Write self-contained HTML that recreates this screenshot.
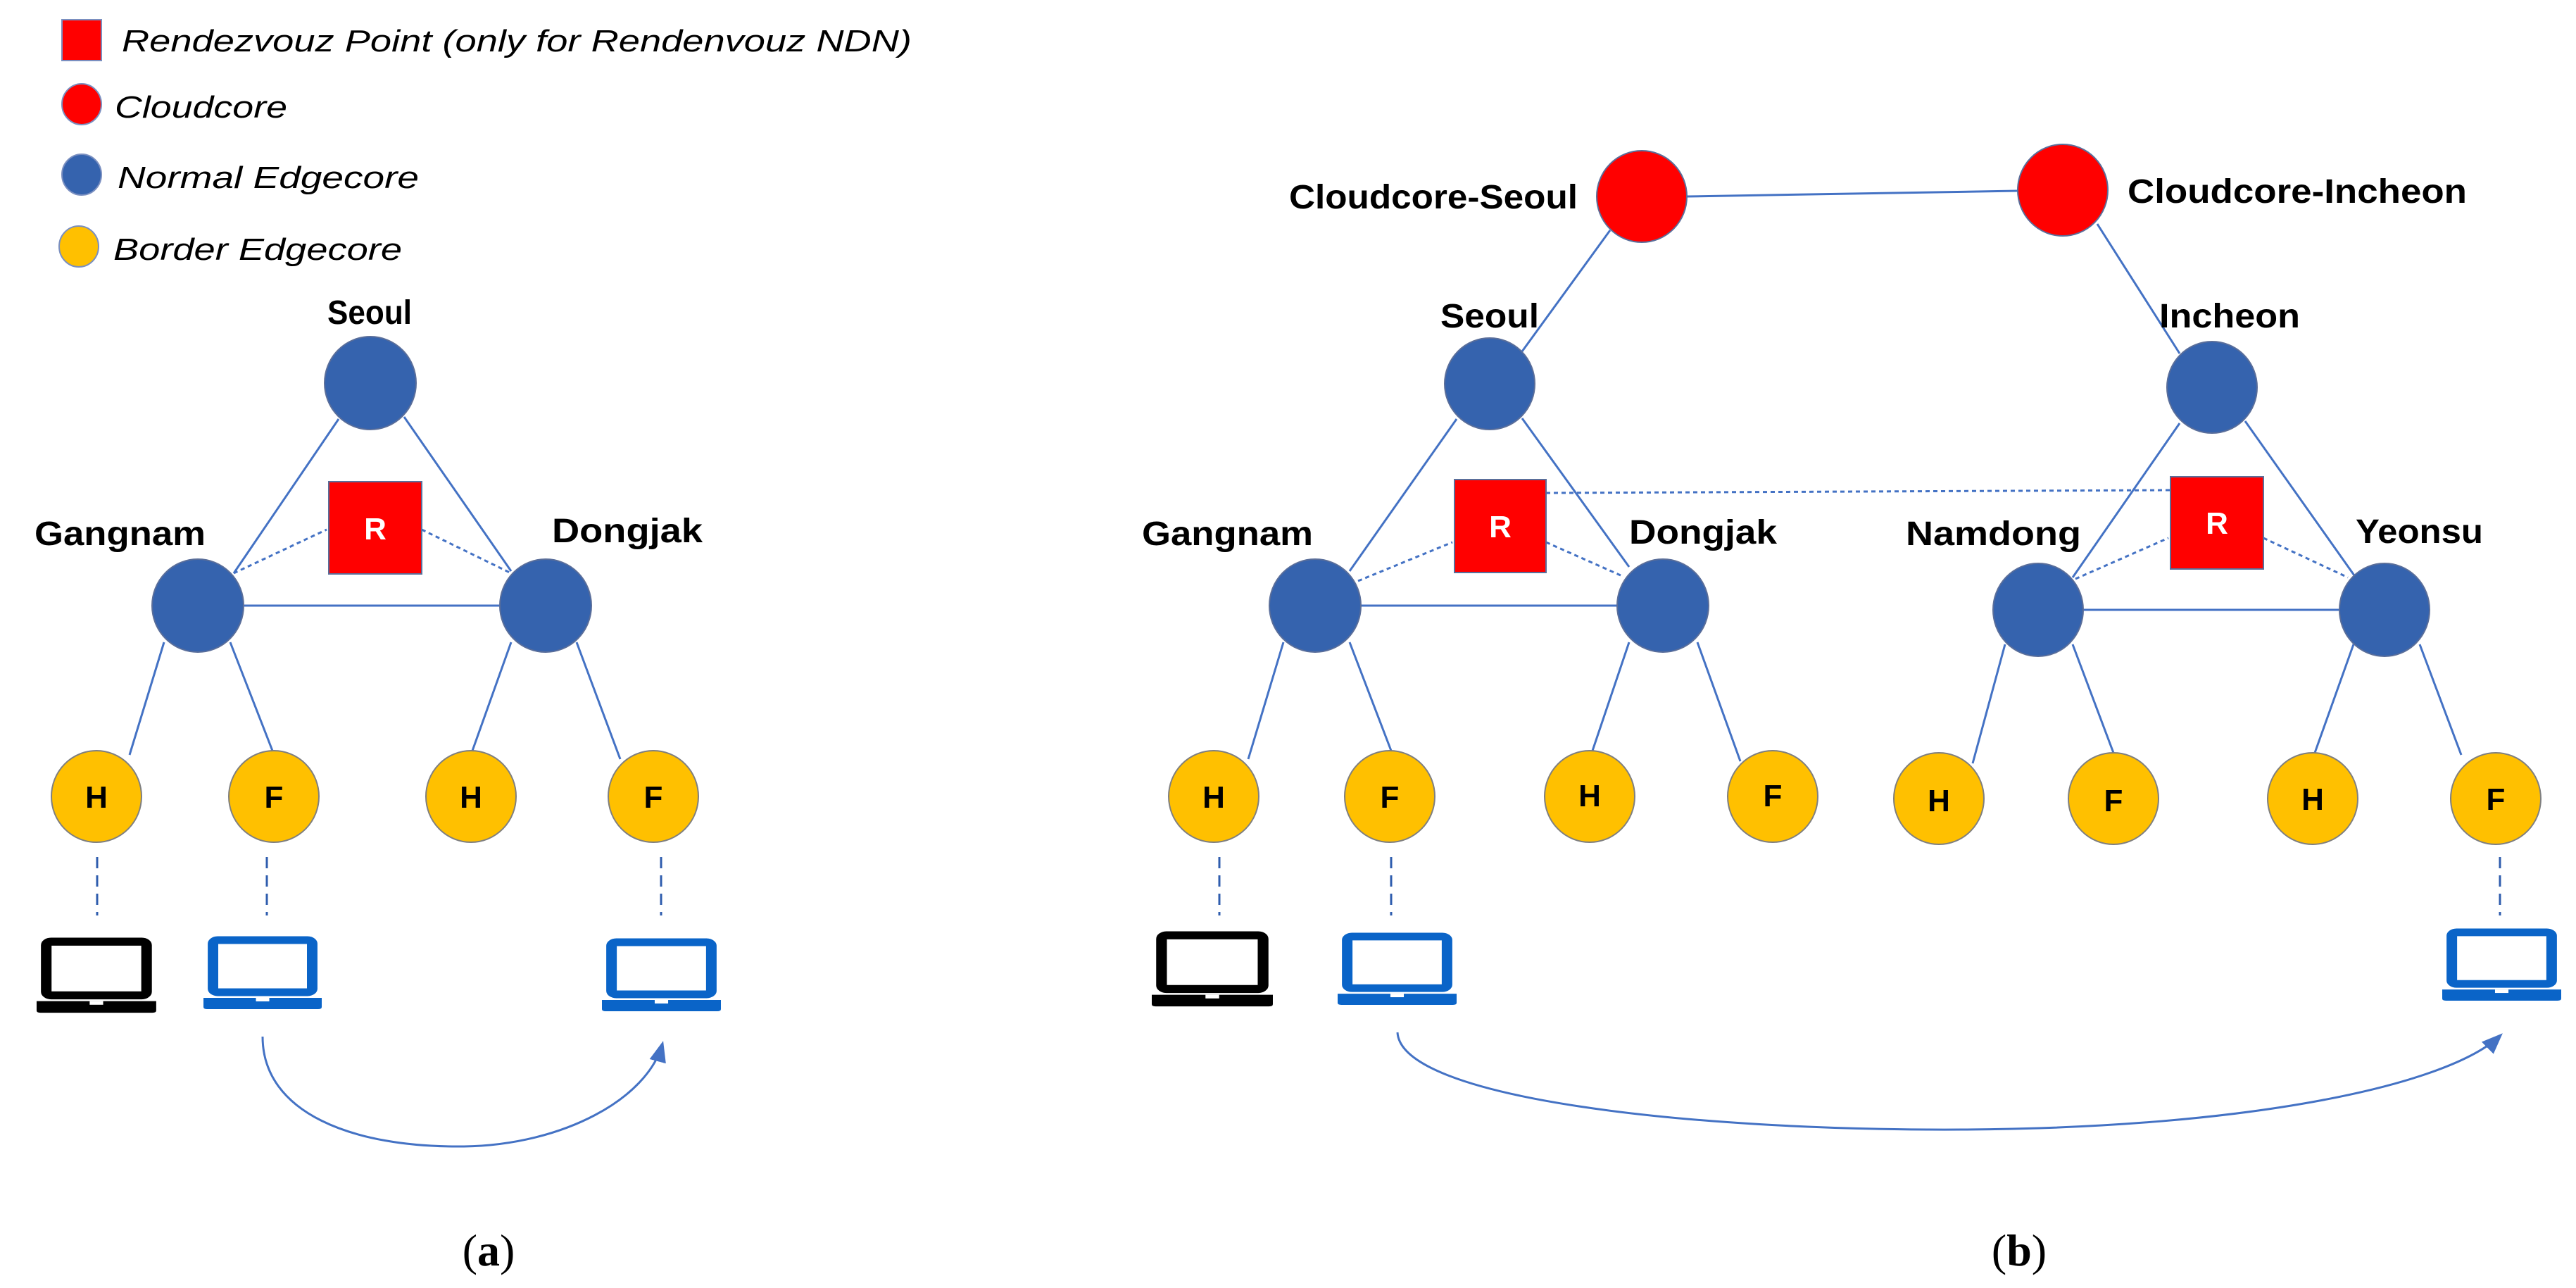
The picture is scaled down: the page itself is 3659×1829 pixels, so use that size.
<!DOCTYPE html>
<html><head><meta charset="utf-8"><style>
html,body{margin:0;padding:0;background:#fff;}
svg{display:block;}
.lbl{font-family:"Liberation Sans",sans-serif;font-weight:bold;font-size:48px;fill:#000;}
.lg{font-family:"Liberation Sans",sans-serif;font-style:italic;font-size:44px;fill:#000;}
.nl{font-family:"Liberation Sans",sans-serif;font-weight:bold;font-size:44px;}
.cap{font-family:"Liberation Serif",serif;font-size:64px;fill:#000;}
</style></head><body>
<svg width="3659" height="1829" viewBox="0 0 3659 1829" xmlns="http://www.w3.org/2000/svg">
<defs>
<marker id="ah" markerWidth="10" markerHeight="10" refX="8" refY="5" orient="auto" markerUnits="userSpaceOnUse" viewBox="0 0 10 10">
<path d="M0,0 L10,5 L0,10 z" fill="#4472C4"/>
</marker>
<marker id="ah2" markerWidth="30" markerHeight="30" refX="26" refY="15" orient="auto" markerUnits="userSpaceOnUse" viewBox="0 0 30 30">
<path d="M0,3 L30,15 L0,27 z" fill="#4472C4"/>
</marker>
<g id="lapB">
<rect x="10" y="6" width="104" height="74" rx="5" fill="none" stroke="#0A64C8" stroke-width="11"/>
<path d="M0,88 H124 V101 Q124,104 120,104 H4 Q0,104 0,101 Z" fill="#0A64C8"/>
<rect x="55" y="88" width="14" height="5" fill="#fff"/>
</g>
<g id="lapK">
<rect x="10" y="6" width="104" height="74" rx="5" fill="none" stroke="#000" stroke-width="11"/>
<path d="M0,88 H124 V101 Q124,104 120,104 H4 Q0,104 0,101 Z" fill="#000"/>
<rect x="55" y="88" width="14" height="5" fill="#fff"/>
</g>
</defs>

<!-- Legend -->
<rect x="88" y="28" width="56" height="58" fill="#FF0000" stroke="#7A8FC0" stroke-width="2"/>
<text class="lg" x="173" y="73" textLength="1122" lengthAdjust="spacingAndGlyphs">Rendezvouz Point (only for Rendenvouz NDN)</text>
<ellipse cx="116" cy="148" rx="28" ry="29" fill="#FF0000" stroke="#7A8FC0" stroke-width="2"/>
<text class="lg" x="163" y="167" textLength="245" lengthAdjust="spacingAndGlyphs">Cloudcore</text>
<ellipse cx="116" cy="248" rx="28" ry="29" fill="#3563AE" stroke="#7A8FC0" stroke-width="2"/>
<text class="lg" x="167" y="267" textLength="428" lengthAdjust="spacingAndGlyphs">Normal Edgecore</text>
<ellipse cx="112" cy="350" rx="28" ry="29" fill="#FFC000" stroke="#7A8FC0" stroke-width="2"/>
<text class="lg" x="161" y="369" textLength="410" lengthAdjust="spacingAndGlyphs">Border Edgecore</text>

<g stroke="#4472C4" stroke-width="3" fill="none">
<!-- (a) solid lines -->
<line x1="481" y1="595" x2="332" y2="814"/>
<line x1="574" y1="592" x2="726" y2="811"/>
<line x1="347" y1="860" x2="709" y2="860"/>
<line x1="233" y1="912" x2="184" y2="1072"/>
<line x1="327" y1="912" x2="387" y2="1066"/>
<line x1="726" y1="912" x2="671" y2="1066"/>
<line x1="819" y1="912" x2="881" y2="1078"/>
<!-- (b) solid -->
<line x1="2396" y1="279" x2="2866" y2="271"/>
<line x1="2287" y1="327" x2="2162" y2="499"/>
<line x1="2979" y1="318" x2="3096" y2="502"/>
<line x1="2069" y1="595" x2="1917" y2="811"/>
<line x1="2162" y1="594" x2="2314" y2="805"/>
<line x1="3096" y1="601" x2="2944" y2="820"/>
<line x1="3189" y1="598" x2="3344" y2="817"/>
<line x1="1933" y1="860" x2="2297" y2="860"/>
<line x1="2959" y1="866" x2="3323" y2="866"/>
<line x1="1823" y1="912" x2="1773" y2="1078"/>
<line x1="1917" y1="912" x2="1976" y2="1066"/>
<line x1="2314" y1="912" x2="2262" y2="1066"/>
<line x1="2411" y1="912" x2="2472" y2="1081"/>
<line x1="2848" y1="915" x2="2802" y2="1084"/>
<line x1="2944" y1="915" x2="3002" y2="1069"/>
<line x1="3343" y1="915" x2="3288" y2="1069"/>
<line x1="3437" y1="915" x2="3496" y2="1072"/>
</g>
<g stroke="#4472C4" stroke-width="3" fill="none" stroke-dasharray="6 5">
<line x1="332" y1="814" x2="464" y2="752"/>
<line x1="599" y1="752" x2="726" y2="814"/>
<line x1="1929" y1="825" x2="2063" y2="770"/>
<line x1="2196" y1="770" x2="2302" y2="817"/>
<line x1="2948" y1="822" x2="3080" y2="764"/>
<line x1="3215" y1="764" x2="3335" y2="820"/>
<line x1="2196" y1="700" x2="3083" y2="696"/>
</g>
<g stroke="#2F5DAE" stroke-width="3" fill="none" stroke-dasharray="16 10">
<line x1="138" y1="1217" x2="138" y2="1300"/>
<line x1="379" y1="1217" x2="379" y2="1300"/>
<line x1="939" y1="1217" x2="939" y2="1300"/>
<line x1="1732" y1="1217" x2="1732" y2="1300"/>
<line x1="1976" y1="1217" x2="1976" y2="1300"/>
<line x1="3551" y1="1217" x2="3551" y2="1300"/>
</g>

<!-- curved arrows -->
<path d="M373,1472 C373,1580 500,1630 659,1628 C800,1626 920,1560 941,1482" fill="none" stroke="#4472C4" stroke-width="3" marker-end="url(#ah2)"/>
<path d="M1985,1466 C1990,1560 2400,1606 2787,1604 C3200,1602 3480,1540 3552,1470" fill="none" stroke="#4472C4" stroke-width="3" marker-end="url(#ah2)"/>

<!-- nodes -->
<g stroke="#5A6E9A" stroke-width="2">
<ellipse cx="526" cy="544" rx="65" ry="66" fill="#3563AE"/>
<ellipse cx="281" cy="860" rx="65" ry="66" fill="#3563AE"/>
<ellipse cx="775" cy="860" rx="65" ry="66" fill="#3563AE"/>
<rect x="467" y="684" width="132" height="131" fill="#FF0000"/>
<ellipse cx="2332" cy="279" rx="64" ry="65" fill="#FF0000"/>
<ellipse cx="2930" cy="270" rx="64" ry="65" fill="#FF0000"/>
<ellipse cx="2116" cy="545" rx="64" ry="65" fill="#3563AE"/>
<ellipse cx="3142" cy="550" rx="64" ry="65" fill="#3563AE"/>
<ellipse cx="1868" cy="860" rx="65" ry="66" fill="#3563AE"/>
<ellipse cx="2362" cy="860" rx="65" ry="66" fill="#3563AE"/>
<ellipse cx="2895" cy="866" rx="64" ry="66" fill="#3563AE"/>
<ellipse cx="3387" cy="866" rx="64" ry="66" fill="#3563AE"/>
<rect x="2066" y="681" width="130" height="132" fill="#FF0000"/>
<rect x="3083" y="677" width="132" height="131" fill="#FF0000"/>
</g>
<g stroke="#7F7F7F" stroke-width="2" fill="#FFC000">
<ellipse cx="137" cy="1131" rx="64" ry="65"/>
<ellipse cx="389" cy="1131" rx="64" ry="65"/>
<ellipse cx="669" cy="1131" rx="64" ry="65"/>
<ellipse cx="928" cy="1131" rx="64" ry="65"/>
<ellipse cx="1724" cy="1131" rx="64" ry="65"/>
<ellipse cx="1974" cy="1131" rx="64" ry="65"/>
<ellipse cx="2258" cy="1131" rx="64" ry="65"/>
<ellipse cx="2518" cy="1131" rx="64" ry="65"/>
<ellipse cx="2754" cy="1134" rx="64" ry="65"/>
<ellipse cx="3002" cy="1134" rx="64" ry="65"/>
<ellipse cx="3285" cy="1134" rx="64" ry="65"/>
<ellipse cx="3545" cy="1134" rx="64" ry="65"/>
</g>
<g class="nl" text-anchor="middle" fill="#000">
<text x="137" y="1147">H</text><text x="389" y="1147">F</text>
<text x="669" y="1147">H</text><text x="928" y="1147">F</text>
<text x="1724" y="1147">H</text><text x="1974" y="1147">F</text>
<text x="2258" y="1145">H</text><text x="2518" y="1145">F</text>
<text x="2754" y="1152">H</text><text x="3002" y="1152">F</text>
<text x="3285" y="1150">H</text><text x="3545" y="1150">F</text>
</g>
<g class="nl" text-anchor="middle" fill="#fff">
<text x="533" y="766">R</text>
<text x="2131" y="763">R</text>
<text x="3149" y="758">R</text>
</g>

<!-- labels -->
<g class="lbl">
<text x="525" y="460" text-anchor="middle" textLength="120" lengthAdjust="spacingAndGlyphs">Seoul</text>
<text x="49" y="774" textLength="243" lengthAdjust="spacingAndGlyphs">Gangnam</text>
<text x="784" y="770" textLength="214" lengthAdjust="spacingAndGlyphs">Dongjak</text>
<text x="2241" y="296" text-anchor="end" textLength="410" lengthAdjust="spacingAndGlyphs">Cloudcore-Seoul</text>
<text x="3022" y="288" textLength="482" lengthAdjust="spacingAndGlyphs">Cloudcore-Incheon</text>
<text x="2116" y="465" text-anchor="middle" textLength="140" lengthAdjust="spacingAndGlyphs">Seoul</text>
<text x="3067" y="465" textLength="200" lengthAdjust="spacingAndGlyphs">Incheon</text>
<text x="1622" y="774" textLength="243" lengthAdjust="spacingAndGlyphs">Gangnam</text>
<text x="2314" y="772" textLength="210" lengthAdjust="spacingAndGlyphs">Dongjak</text>
<text x="2707" y="774" textLength="249" lengthAdjust="spacingAndGlyphs">Namdong</text>
<text x="3346" y="771" textLength="181" lengthAdjust="spacingAndGlyphs">Yeonsu</text>
</g>

<!-- laptops -->
<use href="#lapK" transform="translate(52,1331) scale(1.37,1.03)"/>
<use href="#lapB" transform="translate(289,1329) scale(1.355,1.0)"/>
<use href="#lapB" transform="translate(855,1332) scale(1.363,1.0)"/>
<use href="#lapK" transform="translate(1636,1322) scale(1.387,1.03)"/>
<use href="#lapB" transform="translate(1900,1324) scale(1.363,0.99)"/>
<use href="#lapB" transform="translate(3469,1318) scale(1.363,0.99)"/>

<!-- captions -->
<text class="cap" x="694" y="1797" text-anchor="middle">(<tspan font-weight="bold">a</tspan>)</text>
<text class="cap" x="2868" y="1797" text-anchor="middle">(<tspan font-weight="bold">b</tspan>)</text>
</svg>
</body></html>
